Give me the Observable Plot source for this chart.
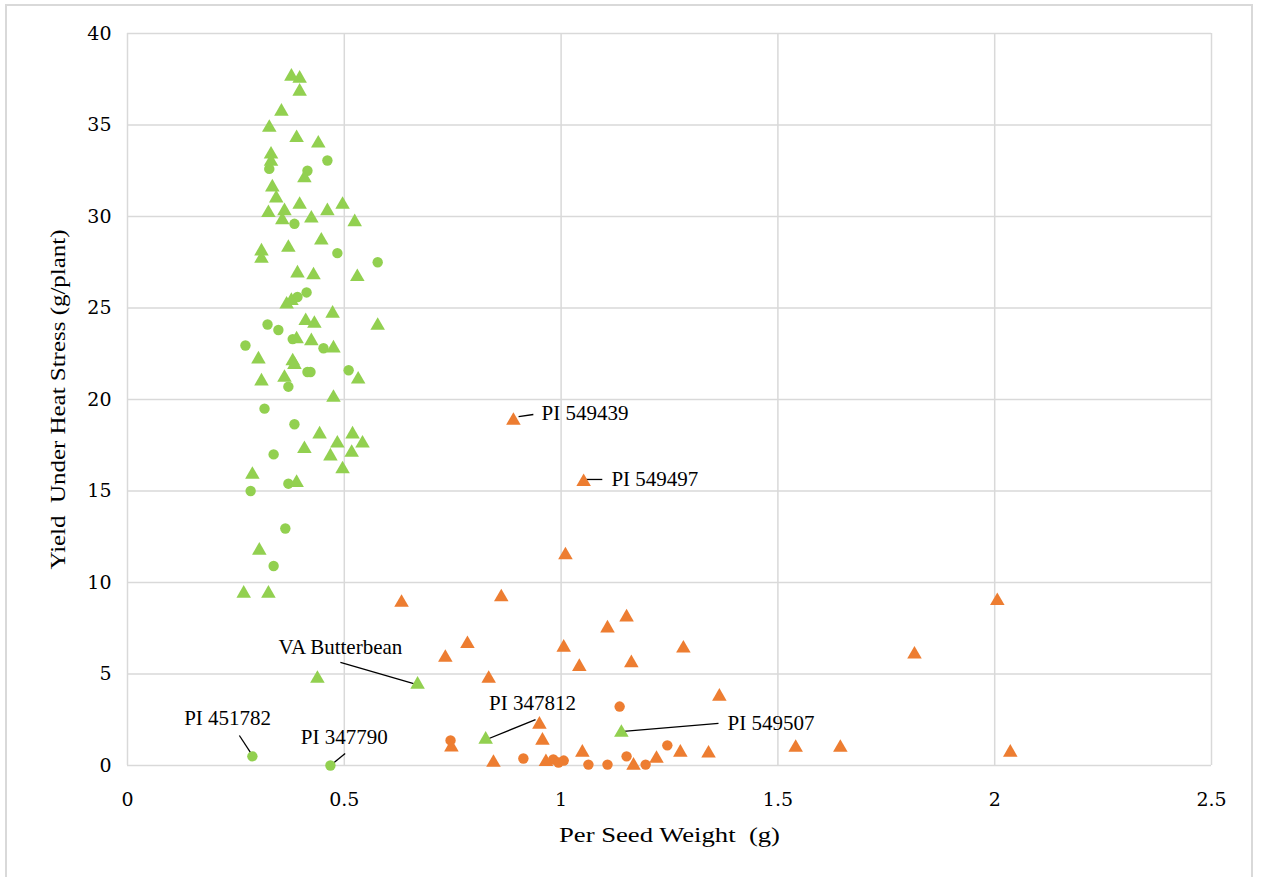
<!DOCTYPE html>
<html>
<head>
<meta charset="utf-8">
<script src="https://cdn.jsdelivr.net/npm/d3@7"></script>
<script src="https://cdn.jsdelivr.net/npm/@observablehq/plot@0.6"></script>
<style>
  html, body { margin: 0; padding: 0; background: #fff; }
  #wrap { position: relative; width: 1261px; height: 877px; }
  #border { position: absolute; left: 5px; top: 4px; width: 1248px; height: 880px; border: 2px solid #d9d9d9; box-sizing: border-box; pointer-events: none; }
  #chart { position: absolute; left: 0; top: 0; }
</style>
</head>
<body>
<div id="wrap"><div id="chart"></div><div id="border"></div></div>
<script>
// Per seed weight (g) vs. yield under heat stress (g/plant)
const xTicks = [0, 0.5, 1, 1.5, 2, 2.5];
const yTicks = [0, 5, 10, 15, 20, 25, 30, 35, 40];

const greenTriangles = [
  [0.378, 37.65], [0.397, 37.54], [0.397, 36.83], [0.355, 35.74], [0.327, 34.86], [0.390, 34.3], [0.440, 34.0],
  [0.331, 33.4], [0.331, 33.0], [0.408, 32.1], [0.334, 31.6], [0.343, 31.0],
  [0.325, 30.2], [0.362, 30.3], [0.357, 29.8], [0.397, 30.65], [0.424, 29.9], [0.461, 30.3], [0.496, 30.65], [0.524, 29.7],
  [0.309, 28.1], [0.309, 27.7], [0.371, 28.3], [0.447, 28.7],
  [0.392, 26.9], [0.429, 26.8], [0.530, 26.7],
  [0.367, 25.2], [0.378, 25.4],
  [0.577, 24.04], [0.473, 24.7], [0.411, 24.3], [0.431, 24.15],
  [0.390, 23.3], [0.424, 23.2], [0.475, 22.8],
  [0.302, 22.2], [0.381, 22.1], [0.385, 21.9], [0.532, 21.1], [0.309, 21.0], [0.362, 21.2], [0.475, 20.1],
  [0.443, 18.1], [0.519, 18.1], [0.484, 17.6], [0.542, 17.6], [0.408, 17.3], [0.468, 16.9], [0.517, 17.1], [0.496, 16.2],
  [0.288, 15.9], [0.390, 15.45],
  [0.304, 11.75], [0.268, 9.4], [0.325, 9.4], [0.438, 4.75],
  [0.669, 4.43], [0.826, 1.42], [1.139, 1.8]
];

const greenCircles = [
  [0.461, 33.06], [0.327, 32.6], [0.415, 32.5], [0.385, 29.6], [0.484, 28.0], [0.577, 27.5],
  [0.392, 25.6], [0.413, 25.85], [0.323, 24.1], [0.348, 23.8], [0.381, 23.3], [0.452, 22.8],
  [0.272, 22.95], [0.415, 21.5], [0.422, 21.5], [0.510, 21.6], [0.371, 20.7], [0.316, 19.5],
  [0.385, 18.65], [0.337, 17.0], [0.284, 15.0], [0.371, 15.4], [0.364, 12.95], [0.337, 10.9],
  [0.288, 0.5], [0.468, 0.0]
];

const orangeTriangles = [
  [0.890, 18.85], [1.052, 15.5], [1.010, 11.5], [0.632, 8.9], [0.862, 9.2], [1.107, 7.5], [1.151, 8.1],
  [1.006, 6.45], [0.784, 6.65], [0.733, 5.9], [1.042, 5.4], [1.162, 5.6], [0.833, 4.75], [1.282, 6.4],
  [1.365, 3.77], [0.950, 2.24], [0.957, 1.37], [0.747, 1.0], [0.844, 0.16], [0.965, 0.2], [1.049, 0.71],
  [1.167, 0.0], [1.220, 0.38], [1.275, 0.71], [1.340, 0.66], [2.006, 9.0], [1.815, 6.07], [1.541, 0.98],
  [1.644, 0.98], [2.036, 0.71]
];

const orangeCircles = [
  [1.135, 3.22], [0.745, 1.37], [0.913, 0.38], [0.982, 0.33], [0.994, 0.16], [1.006, 0.27],
  [1.063, 0.05], [1.107, 0.05], [1.151, 0.5], [1.195, 0.05], [1.245, 1.1]
];

// Labelled accessions: name, text anchor position, leader line start/end
const calloutNames  = ["PI 549439", "PI 549497", "VA Butterbean", "PI 347812", "PI 451782", "PI 347790", "PI 549507"];
const calloutTextX  = [0.955, 1.116, 0.491, 0.934, 0.231, 0.500, 1.384];
const calloutTextY  = [19.23, 15.63, 6.45, 3.39, 2.57, 1.53, 2.30];
const calloutAnchor = ["start", "start", "middle", "middle", "middle", "middle", "start"];
const leaderFrom = [[0.902, 19.07], [1.052, 15.63], [0.491, 5.63], [0.941, 2.51], [0.258, 1.64], [0.502, 0.66], [1.144, 1.86]];
const leaderTo   = [[0.936, 19.18], [1.095, 15.63], [0.660, 4.48], [0.828, 1.42], [0.288, 0.55], [0.468, 0.0], [1.363, 2.30]];

const xTitle = "Per Seed Weight\u00a0\u00a0(g)";
const yTitle = "Yield\u00a0\u00a0Under Heat Stress (g/plant)";

const green = "#92d050";
const orange = "#ed7d31";
const gridColor = "#d9d9d9";

const callouts = calloutNames.map((name, i) => ({
  name, x: calloutTextX[i], y: calloutTextY[i], anchor: calloutAnchor[i],
  x1: leaderFrom[i][0], y1: leaderFrom[i][1], x2: leaderTo[i][0], y2: leaderTo[i][1]
}));

const serif = "'Liberation Serif', 'Times New Roman', serif";
const tickFont = "'DejaVu Serif', serif";

const chart = Plot.plot({
  width: 1261,
  height: 877,
  marginLeft: 127,
  marginRight: 50,
  marginTop: 33,
  marginBottom: 112,
  x: { domain: [0, 2.5] },
  y: { domain: [0, 40] },
  style: { fontFamily: serif, background: "transparent", overflow: "visible" },
  marks: [
    Plot.gridX(xTicks, { stroke: gridColor, strokeOpacity: 1, strokeWidth: 1.5 }),
    Plot.gridY(yTicks, { stroke: gridColor, strokeOpacity: 1, strokeWidth: 1.5 }),
    Plot.axisX(xTicks, { tickSize: 0, tickPadding: 27, tickFormat: d => String(d), fontSize: 19, label: null }),
    Plot.axisY(yTicks, { tickSize: 0, tickPadding: 16, fontSize: 19, label: null }),
    Plot.link(callouts, { x1: "x1", y1: "y1", x2: "x2", y2: "y2", stroke: "#000", strokeWidth: 1.3 }),
    Plot.dot(greenCircles, { x: d => d[0], y: d => d[1], symbol: "circle", r: 5.2, fill: green }),
    Plot.dot(greenTriangles, { x: d => d[0], y: d => d[1], symbol: "triangle", r: 5.4, fill: green }),
    Plot.dot(orangeCircles, { x: d => d[0], y: d => d[1], symbol: "circle", r: 5.2, fill: orange }),
    Plot.dot(orangeTriangles, { x: d => d[0], y: d => d[1], symbol: "triangle", r: 5.4, fill: orange }),
    Plot.text(callouts.filter(d => d.anchor === "start"), { x: "x", y: "y", text: "name", textAnchor: "start", fontSize: 21, fill: "#000" }),
    Plot.text(callouts.filter(d => d.anchor === "middle"), { x: "x", y: "y", text: "name", textAnchor: "middle", fontSize: 21, fill: "#000" }),
    Plot.text([xTitle], { frameAnchor: "bottom", dy: 76, text: d => d, textAnchor: "middle", fontSize: 22, fill: "#000" }),
    Plot.text([yTitle], { frameAnchor: "left", dx: -70, rotate: -90, text: d => d, textAnchor: "middle", fontSize: 22, fill: "#000" })
  ]
});

const svg = d3.select(chart);

// Tick labels in a wider serif face
svg.selectAll("[aria-label='x-axis tick label'] text, [aria-label='y-axis tick label'] text")
  .style("font-family", tickFont);

// Axis titles set slightly wide, as in the original figure
svg.selectAll("text").filter(function () { return this.textContent === xTitle; })
  .attr("textLength", 221).attr("lengthAdjust", "spacingAndGlyphs");
svg.selectAll("text").filter(function () { return this.textContent === yTitle; })
  .attr("textLength", 340).attr("lengthAdjust", "spacingAndGlyphs");

document.getElementById("chart").appendChild(chart);
</script>
</body>
</html>
